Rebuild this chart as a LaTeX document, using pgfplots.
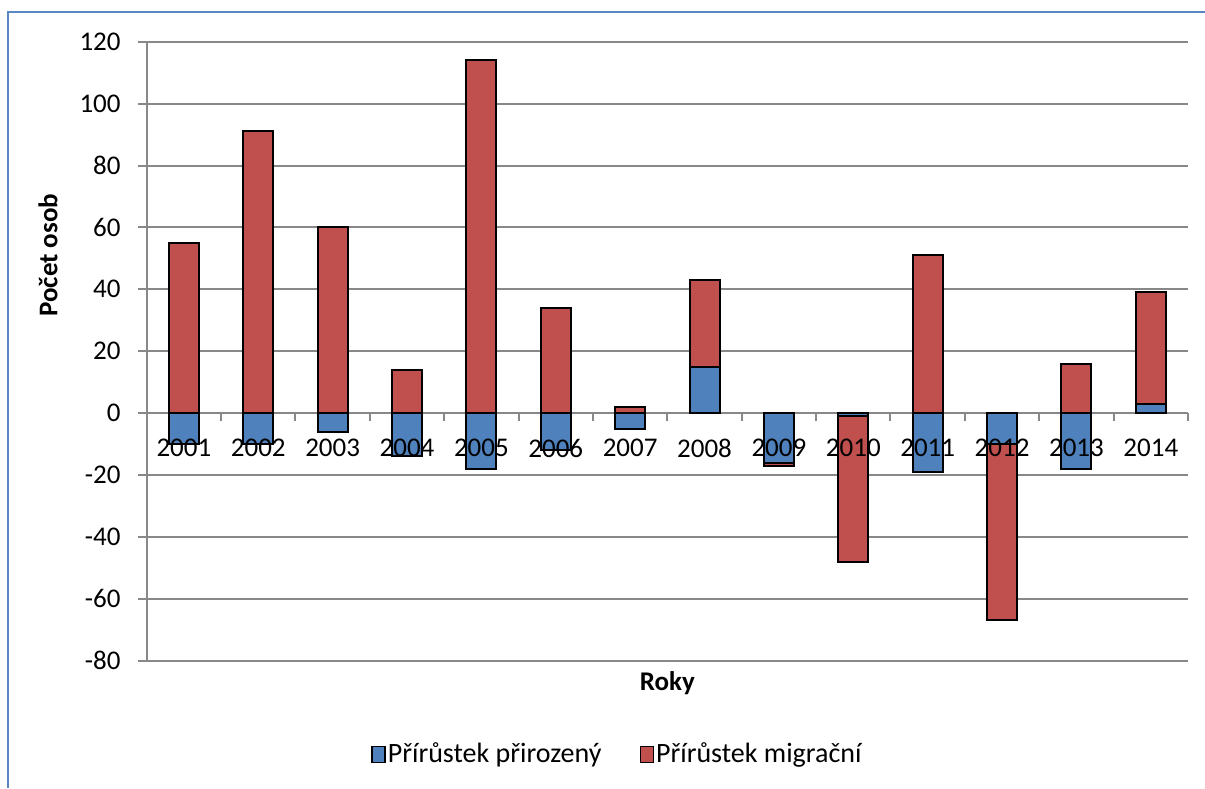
\documentclass[border=0pt,12pt]{standalone}
\usepackage{fontspec}
\setmainfont{Carlito}
\usepackage{pgfplots}
\usepackage{pgfplotstable}
\pgfplotsset{compat=1.18}
\definecolor{prir}{HTML}{4F81BD}
\definecolor{migr}{HTML}{C0504D}
\definecolor{gridgray}{HTML}{888888}
\definecolor{frameblue}{HTML}{5A86C2}

\pgfplotsset{
  layers/mylayers/.define layer set={axis background,axis grid,axis ticks,axis lines,pre main,main,axis tick labels,axis descriptions,axis foreground}{/pgfplots/layers/standard},
}

% rok, prirozeny prirustek, migracni prirustek
\pgfplotstableread{
rok prir migr
1  -10  55
2  -10  91
3   -6  60
4  -14  14
5  -18 114
6  -12  34
7   -5   2
8   15  28
9  -16  -1
10  -1 -47
11 -19  51
12 -10 -57
13 -18  16
14   3  36
}\data

\begin{document}
\fontsize{13.5}{16}\selectfont
\begin{tikzpicture}
\draw[frameblue, line width=1pt] (4pt,0) -- (4pt,388pt) -- (602.5pt,388pt);
\begin{axis}[
    set layers=mylayers,
    at={(73.35pt,63.65pt)}, anchor=south west,
    scale only axis,
    width=520.65pt, height=309.5pt,
    xmin=0.5, xmax=14.5,
    ymin=-80, ymax=120,
    ytick={-80,-60,...,120},
    xtick={1,...,14},
    xticklabels={2001,2002,2003,2004,2005,2006,2007,2008,2009,2010,2011,2012,2013,2014},
    minor xtick={1.5,2.5,...,14.5},
    axis x line*=middle,
    axis y line*=left,
    axis line style={gridgray, line width=1pt, -},
    ymajorgrids,
    grid style={gridgray, line width=1pt},
    major x tick style={draw=none},
    minor x tick style={gridgray, line width=1pt},
    ytick style={gridgray, line width=1pt},
    xtick align=inside,
    ytick align=outside,
    minor tick length=4pt,
    major tick length=4.35pt,
    xticklabel style={yshift=-4pt},
    yticklabel style={xshift=-4pt},
    /pgf/number format/assume math mode=true,
    xlabel={\bfseries Roky},
    xlabel style={at={(axis description cs:0.5,-0.036)}, anchor=center},
    ylabel={\bfseries Počet osob},
    ylabel style={at={(axis description cs:-0.0948,0.655)}, anchor=center},
    ybar, bar width=15pt, bar shift=0pt,
    legend style={draw=none, legend columns=2, font=\fontsize{14}{16}\selectfont,
      at={(axis description cs:0.452,-0.152)}, anchor=center,
      /tikz/every even column/.append style={column sep=18pt},
      nodes={inner xsep=1pt}},
    legend image code/.code={\draw[#1,draw=black,line width=0.8pt] (0pt,-3.8pt) rectangle (6.5pt,4.2pt);},
]
\addlegendimage{fill=prir}
\addlegendentry{Přírůstek přirozený}
\addlegendimage{fill=migr}
\addlegendentry{Přírůstek migrační}
% migracni cast: navazuje na prirozeny, pokud maji stejne znamenko
\addplot[fill=migr, draw=black, line width=1pt, forget plot]
  table[x=rok, y expr={\thisrow{prir}*\thisrow{migr}>0 ? \thisrow{prir}+\thisrow{migr} : \thisrow{migr}}] {\data};
\addplot[fill=prir, draw=black, line width=1pt, forget plot]
  table[x=rok, y=prir] {\data};
\end{axis}
\pgfresetboundingbox
\path[use as bounding box] (0,0) rectangle (602.5pt,394pt);
\end{tikzpicture}
\end{document}
